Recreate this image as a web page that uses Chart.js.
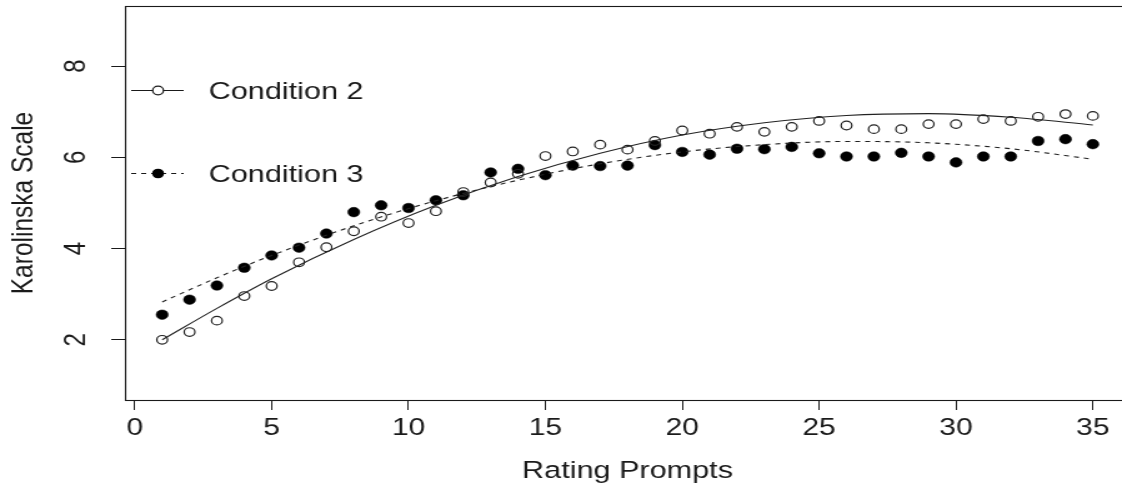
<!DOCTYPE html>
<html>
<head>
<meta charset="utf-8">
<title>Karolinska Scale by Rating Prompts</title>
<script src="https://cdn.jsdelivr.net/npm/chart.js@4"></script>
<style>
  html, body { margin: 0; padding: 0; background: #fff; overflow: hidden; }
  #wrap { width: 1122px; height: 492px; overflow: hidden; position: relative; }
  /* the reference is stretched sideways, so the canvas is drawn narrow and widened */
  #chart { transform: scaleX(1.2494); transform-origin: 0 0; display: block; }
</style>
</head>
<body>
<div id="wrap"><canvas id="chart" width="910" height="492"></canvas></div>
<script>
// Data
const prompts = [1, 2, 3, 4, 5, 6, 7, 8, 9, 10, 11, 12, 13, 14, 15, 16, 17, 18,
  19, 20, 21, 22, 23, 24, 25, 26, 27, 28, 29, 30, 31, 32, 33, 34, 35];
const condition2 = [2.00, 2.17, 2.42, 2.96, 3.18, 3.70, 4.03, 4.38, 4.70, 4.56, 4.82, 5.24,
  5.45, 5.64, 6.03, 6.13, 6.28, 6.17, 6.36, 6.59, 6.52, 6.67, 6.56, 6.67, 6.80, 6.70,
  6.62, 6.62, 6.73, 6.73, 6.84, 6.80, 6.89, 6.95, 6.91];
const condition3 = [2.55, 2.88, 3.19, 3.58, 3.85, 4.02, 4.33, 4.80, 4.95, 4.89, 5.06, 5.17,
  5.67, 5.75, 5.61, 5.82, 5.81, 5.82, 6.27, 6.12, 6.06, 6.19, 6.18, 6.23, 6.09, 6.02,
  6.02, 6.10, 6.02, 5.89, 6.02, 6.02, 6.36, 6.40, 6.29];

// Fitted curves at a few prompts
const fitPrompts = [1, 3, 5, 8, 11, 14, 17, 20, 23, 26, 29, 32, 35];
const fitCondition2 = [2.00, 2.69, 3.34, 4.20, 4.95, 5.58, 6.09, 6.49, 6.76, 6.92, 6.96, 6.88, 6.71];
const fitCondition3 = [2.83, 3.36, 3.85, 4.50, 5.05, 5.50, 5.86, 6.12, 6.28, 6.35, 6.32, 6.19, 5.96];

const xTicks = [0, 5, 10, 15, 20, 25, 30, 35];
const yTicks = [2, 4, 6, 8];
const seriesNames = ['Condition 2', 'Condition 3'];

const FONT = '"Liberation Sans", Arial, Helvetica, sans-serif';
const INK = '#1a1a1a';

function toPoints(xs, ys) {
  return xs.map((x, i) => ({ x: x, y: ys[i] }));
}

// Box round the plot, rotated y labels and the legend
const framePlugin = {
  id: 'frame',
  afterDraw(chart) {
    const ctx = chart.ctx;
    const area = chart.chartArea;
    const yScale = chart.scales.y;

    ctx.save();
    ctx.strokeStyle = INK;
    ctx.lineWidth = 1.1;
    ctx.strokeRect(Math.round(area.left) + 0.5, Math.round(area.top) + 0.5,
      Math.round(area.right - area.left), Math.round(area.bottom - area.top));

    // y tick labels, parallel to the axis as R draws them
    ctx.fillStyle = INK;
    ctx.font = '24px ' + FONT;
    ctx.textAlign = 'center';
    ctx.textBaseline = 'middle';
    yTicks.forEach(v => {
      const py = yScale.getPixelForValue(v);
      ctx.save();
      ctx.translate(area.left - 40, py);
      ctx.rotate(-Math.PI / 2);
      ctx.fillText(String(v), 0, 1);
      ctx.restore();
    });

    // legend
    const rows = [
      { y: 90, dash: [], filled: false },
      { y: 173, dash: [4, 4], filled: true }
    ];
    rows.forEach((row, i) => {
      const x0 = area.left + 5;
      const x1 = area.left + 47;
      const xm = area.left + 26.5;
      ctx.setLineDash(row.dash);
      ctx.lineWidth = 1;
      ctx.strokeStyle = INK;
      ctx.beginPath();
      ctx.moveTo(x0, row.y + 0.5);
      ctx.lineTo(x1, row.y + 0.5);
      ctx.stroke();
      ctx.setLineDash([]);
      ctx.beginPath();
      ctx.arc(xm, row.y + 0.5, row.filled ? 4.8 : 4.3, 0, Math.PI * 2);
      if (row.filled) {
        ctx.fillStyle = '#000';
        ctx.fill();
      } else {
        ctx.fillStyle = '#fff';
        ctx.fill();
        ctx.lineWidth = 1.2;
        ctx.stroke();
      }
      ctx.fillStyle = INK;
      ctx.font = '24.5px ' + FONT;
      ctx.textAlign = 'left';
      ctx.textBaseline = 'alphabetic';
      ctx.fillText(seriesNames[i], area.left + 67, row.y + 9);
    });
    ctx.restore();
  }
};

function buildChart() {
  const ctx = document.getElementById('chart');

  new Chart(ctx, {
    type: 'scatter',
    data: {
      datasets: [
        {
          label: 'Condition 2 fit',
          type: 'line',
          data: toPoints(fitPrompts, fitCondition2),
          borderColor: '#222',
          borderWidth: 1.1,
          pointRadius: 0,
          fill: false,
          cubicInterpolationMode: 'monotone',
          order: 0
        },
        {
          label: 'Condition 3 fit',
          type: 'line',
          data: toPoints(fitPrompts, fitCondition3),
          borderColor: '#222',
          borderWidth: 1.1,
          borderDash: [4, 4],
          pointRadius: 0,
          fill: false,
          cubicInterpolationMode: 'monotone',
          order: 0
        },
        {
          label: seriesNames[0],
          data: toPoints(prompts, condition2),
          pointStyle: 'circle',
          pointRadius: 4.3,
          pointBorderWidth: 1.2,
          pointBorderColor: '#222',
          pointBackgroundColor: 'rgba(255,255,255,0)',
          showLine: false,
          order: 1
        },
        {
          label: seriesNames[1],
          data: toPoints(prompts, condition3),
          pointStyle: 'circle',
          pointRadius: 4.8,
          pointBorderWidth: 0.5,
          pointBorderColor: '#000',
          pointBackgroundColor: '#000',
          showLine: false,
          order: 1
        }
      ]
    },
    options: {
      responsive: false,
      animation: false,
      devicePixelRatio: 1,
      layout: { padding: { top: 6, right: 0, bottom: 0, left: 0 } },
      plugins: {
        legend: { display: false },
        tooltip: { enabled: false }
      },
      scales: {
        x: {
          type: 'linear',
          min: -0.36,
          max: 36.36,
          afterBuildTicks: scale => { scale.ticks = xTicks.map(v => ({ value: v })); },
          afterFit: scale => { scale.height = 92; },
          grid: {
            display: true,
            drawOnChartArea: false,
            drawTicks: true,
            tickLength: 10,
            color: INK,
            lineWidth: 1
          },
          border: { display: false },
          ticks: {
            color: INK,
            padding: 4,
            maxRotation: 0,
            autoSkip: false,
            font: { family: FONT, size: 24 }
          },
          title: {
            display: true,
            text: 'Rating Prompts',
            color: INK,
            font: { family: FONT, size: 24.5 },
            padding: { top: 0, bottom: 6 }
          }
        },
        y: {
          type: 'linear',
          min: 0.68,
          max: 9.32,
          afterBuildTicks: scale => { scale.ticks = yTicks.map(v => ({ value: v })); },
          afterFit: scale => { scale.width = 100; },
          grid: {
            display: true,
            drawOnChartArea: false,
            drawTicks: true,
            tickLength: 11,
            color: INK,
            lineWidth: 1
          },
          border: { display: false },
          ticks: { display: false },
          title: {
            display: true,
            text: 'Karolinska Scale',
            color: INK,
            font: { family: FONT, size: 24.5 },
            padding: { top: 5, bottom: 0 }
          }
        }
      }
    },
    plugins: [framePlugin]
  });
}

buildChart();
</script>
</body>
</html>
